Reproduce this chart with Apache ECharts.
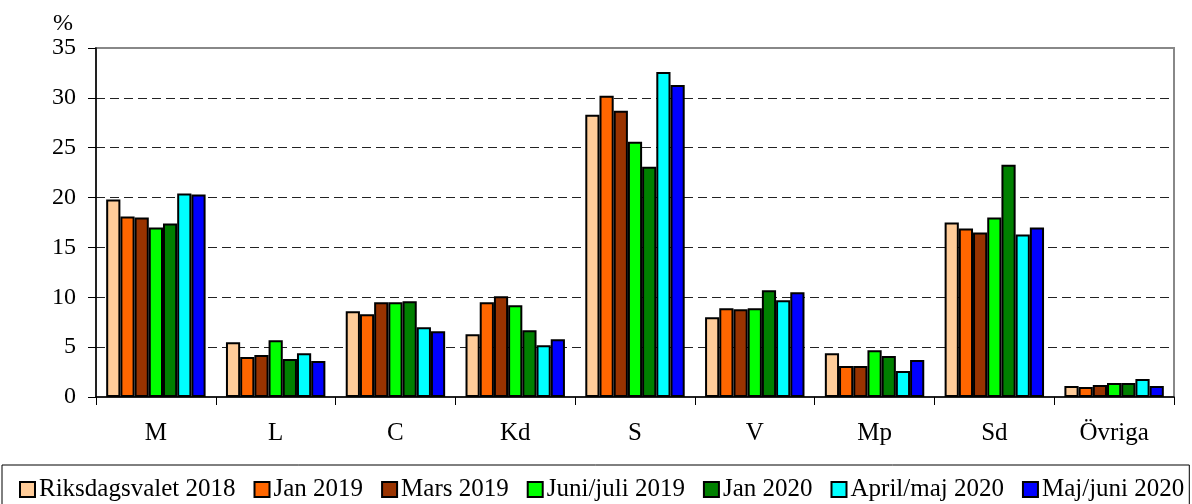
<!DOCTYPE html>
<html>
<head>
<meta charset="utf-8">
<script src="https://cdn.jsdelivr.net/npm/echarts@6/dist/echarts.min.js"></script>
<style>
  html, body { margin: 0; padding: 0; background: #fff; }
  #main { width: 1192px; height: 504px; }
</style>
</head>
<body>
<div id="main"></div>
<script>
var partier = ['M', 'L', 'C', 'Kd', 'S', 'V', 'Mp', 'Sd', 'Övriga'];
var serieNamn = ['Riksdagsvalet 2018', 'Jan 2019', 'Mars 2019', 'Juni/juli 2019', 'Jan 2020', 'April/maj 2020', 'Maj/juni 2020'];
var farger = ['#FFCC99', '#FF6600', '#993300', '#00FF00', '#008000', '#00FFFF', '#0000FF'];

var riksdagsvalet2018 = [19.8, 5.5, 8.6, 6.3, 28.3, 8.0, 4.4, 17.5, 1.1];
var jan2019 = [18.1, 4.0, 8.3, 9.5, 30.2, 8.9, 3.1, 16.9, 1.0];
var mars2019 = [18.0, 4.2, 9.5, 10.1, 28.7, 8.8, 3.1, 16.5, 1.2];
var juniJuli2019 = [17.0, 5.7, 9.5, 9.2, 25.6, 8.9, 4.7, 18.0, 1.4];
var jan2020 = [17.4, 3.8, 9.6, 6.7, 23.1, 10.7, 4.1, 23.3, 1.4];
var aprilMaj2020 = [20.4, 4.4, 7.0, 5.2, 32.6, 9.7, 2.6, 16.3, 1.8];
var majJuni2020 = [20.3, 3.6, 6.6, 5.8, 31.3, 10.5, 3.7, 17.0, 1.1];

var yTicks = [0, 5, 10, 15, 20, 25, 30, 35];

var allData = [riksdagsvalet2018, jan2019, mars2019, juniJuli2019, jan2020, aprilMaj2020, majJuni2020];
var font = 'Liberation Serif';

var series = [];
for (var i = 0; i < serieNamn.length; i++) {
    series.push({
        name: serieNamn[i],
        type: 'bar',
        data: allData[i],
        barGap: '0%',
        barCategoryGap: '17%',
        itemStyle: {
            color: farger[i],
            borderColor: '#000',
            borderWidth: 2
        }
    });
}

var myChart = echarts.init(document.getElementById('main'));
var option = {
    animation: false,
    backgroundColor: '#fff',
    grid: {
        left: 96,
        right: 18,
        top: 48,
        bottom: 107,
        show: true,
        borderColor: '#888',
        borderWidth: 2
    },
    legend: {
        data: serieNamn,
        left: 2,
        top: 465,
        padding: [12, 5, 12, 17],
        borderColor: '#000',
        borderWidth: 1,
        itemWidth: 15,
        itemHeight: 15,
        itemGap: 18,
        icon: 'rect',
        textStyle: {
            fontFamily: font,
            fontSize: 25,
            color: '#000',
            padding: [0, 0, 0, -1]
        }
    },
    xAxis: {
        type: 'category',
        data: partier,
        axisLine: { lineStyle: { color: '#000', width: 1.5 } },
        axisTick: { show: true, length: 8, lineStyle: { color: '#000' } },
        axisLabel: {
            fontFamily: font,
            fontSize: 25,
            color: '#000',
            margin: 24
        }
    },
    yAxis: {
        type: 'value',
        min: yTicks[0],
        max: yTicks[yTicks.length - 1],
        interval: 5,
        name: '%',
        nameLocation: 'end',
        nameGap: 12,
        nameTextStyle: {
            fontFamily: font,
            fontSize: 24,
            color: '#000',
            align: 'right',
            padding: [0, 23, 0, 0]
        },
        axisLine: { show: true, lineStyle: { color: '#000', width: 1.5 } },
        axisTick: { show: true, length: 8, lineStyle: { color: '#000' } },
        axisLabel: {
            fontFamily: font,
            fontSize: 24,
            color: '#000',
            margin: 20
        },
        splitLine: {
            show: true,
            showMinLine: false,
            showMaxLine: false,
            lineStyle: { color: '#222', width: 1, type: [9, 5] }
        }
    },
    series: series
};
myChart.setOption(option);
</script>
</body>
</html>
